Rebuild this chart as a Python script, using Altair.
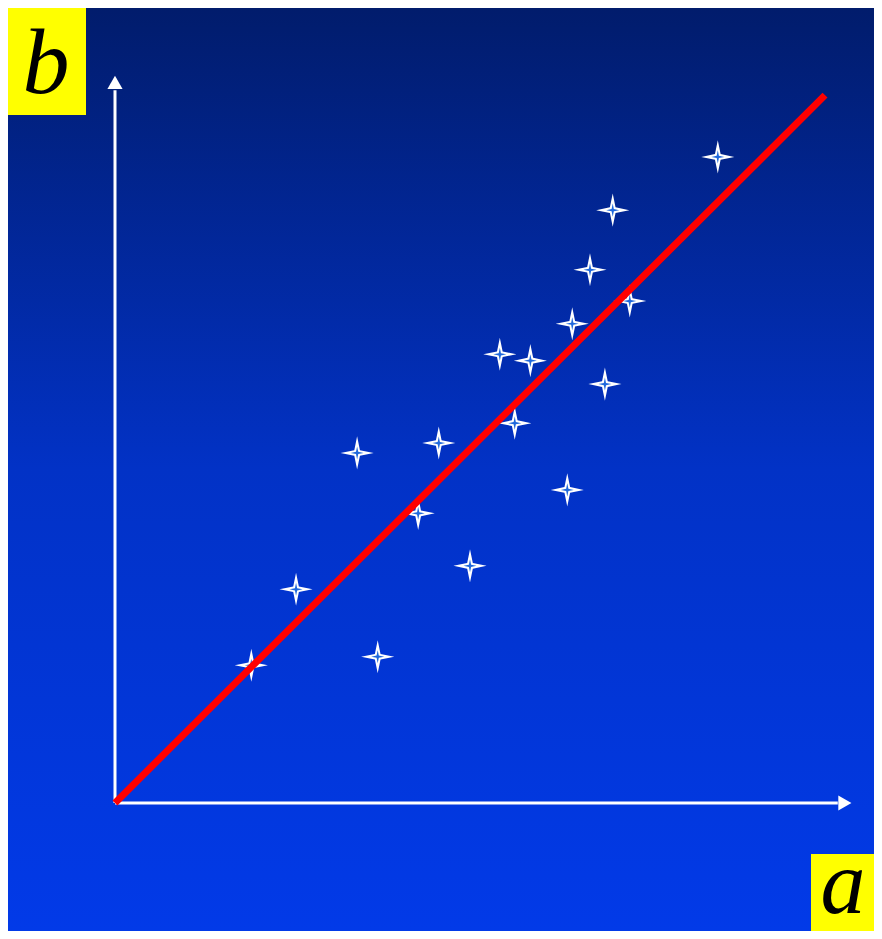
import altair as alt
import pandas as pd

# ---- data (units: 1 = one tenth of the fitted line's run) ----
a_vals = [1.92, 2.55, 3.41, 3.70, 4.27, 4.56, 5.00, 5.42, 5.85, 5.63, 6.37, 6.44, 6.69, 7.01, 7.25, 6.90, 8.49]
b_vals = [1.94, 3.01, 4.93, 2.06, 4.08, 5.07, 3.34, 6.32, 6.23, 5.35, 4.41, 6.75, 7.51, 8.35, 7.07, 5.90, 9.10]
fit_a = [0.0, 10.0]
fit_b = [0.0, 9.97]
axis_x_end = 10.18
axis_y_end = 10.04
arrow_x = 10.28
arrow_y = 10.15
label_x = "a"
label_y = "b"

W, H = 866, 923
XD = [-1.507, 10.690]
YD = [-1.803, 11.197]

xs = alt.Scale(domain=XD, nice=False, zero=False)
ys = alt.Scale(domain=YD, nice=False, zero=False)

def X(f="a", **kw):
    return alt.X(f, type="quantitative", scale=xs, axis=None, **kw)

def Y(f="b", **kw):
    return alt.Y(f, type="quantitative", scale=ys, axis=None, **kw)

dummy = pd.DataFrame({"k": [0]})

bg = alt.Chart(dummy).mark_rect(
    fill={"gradient": "linear", "x1": 0, "x2": 0, "y1": 0, "y2": 1,
          "stops": [{"offset": 0, "color": "#011c6c"},
                    {"offset": 0.5, "color": "#0232c6"},
                    {"offset": 1, "color": "#023ae8"}]},
    stroke=None,
).encode(x=alt.value(0), x2=alt.value(W), y=alt.value(0), y2=alt.value(H))

axes_df = pd.DataFrame({"a": [0.0, 0.0], "b": [0.0, 0.0],
                        "a2": [axis_x_end, 0.0], "b2": [0.0, axis_y_end]})
axes = alt.Chart(axes_df).mark_rule(color="white", strokeWidth=3).encode(
    x=X("a"), y=Y("b"), x2="a2", y2="b2")

arrows_df = pd.DataFrame({"a": [arrow_x, 0.0], "b": [0.0, arrow_y],
                          "s": ["triangle-right", "triangle-up"]})
arrows = alt.Chart(arrows_df).mark_point(filled=True, color="white", opacity=1, size=230).encode(
    x=X("a"), y=Y("b"),
    shape=alt.Shape("s:N", scale=alt.Scale(domain=["triangle-right", "triangle-up"],
                                           range=["triangle-right", "triangle-up"]), legend=None))

star_path = "M0,-1 L0.17,-0.17 L1,0 L0.17,0.17 L0,1 L-0.17,0.17 L-1,0 L-0.17,-0.17 Z"
pts = pd.DataFrame({"a": a_vals, "b": b_vals})
stars = alt.Chart(pts).mark_point(shape=star_path, filled=True, color="white", opacity=1,
                                  size=1100, strokeWidth=0).encode(x=X("a"), y=Y("b"))
cores = alt.Chart(pts).mark_point(shape=star_path, filled=True, color="#1f68dc", opacity=1,
                                  size=170, strokeWidth=0).encode(x=X("a"), y=Y("b"))

fit = alt.Chart(pd.DataFrame({"a": fit_a, "b": fit_b})).mark_line(
    color="#ff0000", strokeWidth=7, strokeCap="butt").encode(x=X("a"), y=Y("b"))

box_b = alt.Chart(dummy).mark_rect(color="#ffff00").encode(
    x=alt.value(0), x2=alt.value(78), y=alt.value(0), y2=alt.value(107))
box_a = alt.Chart(dummy).mark_rect(color="#ffff00").encode(
    x=alt.value(803), x2=alt.value(W), y=alt.value(846), y2=alt.value(H))

txt_b = alt.Chart(pd.DataFrame({"t": [label_y]})).mark_text(
    font="Liberation Serif", fontStyle="italic", fontSize=94, color="black",
    align="center", baseline="alphabetic").encode(text="t:N", x=alt.value(38), y=alt.value(85))
txt_a = alt.Chart(pd.DataFrame({"t": [label_x]})).mark_text(
    font="Liberation Serif", fontStyle="italic", fontSize=90, color="black",
    align="center", baseline="alphabetic").encode(text="t:N", x=alt.value(835), y=alt.value(905))

chart = alt.layer(bg, axes, arrows, stars, cores, fit, box_b, box_a, txt_b, txt_a).properties(
    width=W, height=H, padding=0, autosize=alt.AutoSizeParams(type="none"),
    background="#023ae8",
).configure_view(stroke=None)

chart.save("out.html", embed_options={"renderer": "svg", "actions": False})
